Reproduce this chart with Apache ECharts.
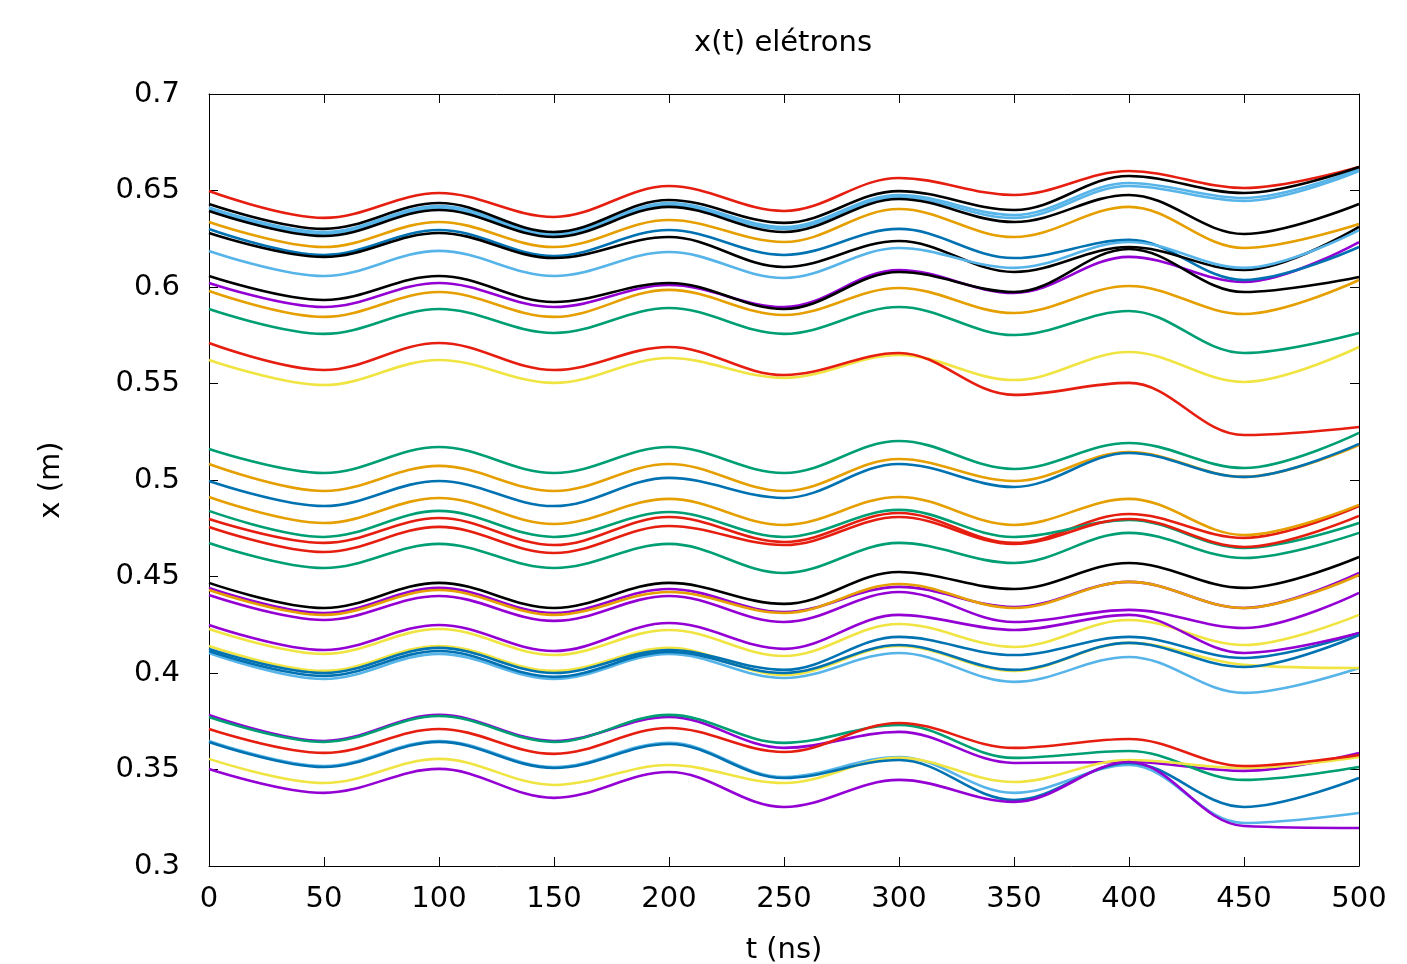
<!DOCTYPE html>
<html>
<head>
<meta charset="utf-8">
<script src="https://cdn.jsdelivr.net/npm/echarts@6/dist/echarts.min.js"></script>
<style>html,body{margin:0;padding:0;background:#fff;}#c{width:1407px;height:964px;}</style>
</head>
<body>
<div id="c"></div>
<script>
// time samples (ns)
const T = [0,50,100,150,200,250,300,350,400,450,500];
const xTicks = [0,50,100,150,200,250,300,350,400,450,500];
const yTicks = ['0.3','0.35','0.4','0.45','0.5','0.55','0.6','0.65','0.7'];

// electron trajectories x(t) in metres
const red1    = [0.6497,0.6358,0.6487,0.6363,0.6523,0.6394,0.6565,0.6477,0.6601,0.6513,0.6622];
const black1  = [0.6430,0.6301,0.6435,0.6285,0.6451,0.6332,0.6497,0.6399,0.6575,0.6487,0.6622];
const lblue1  = [0.6412,0.6285,0.6420,0.6275,0.6435,0.6311,0.6477,0.6373,0.6539,0.6461,0.6611];
const lblue2  = [0.6404,0.6275,0.6409,0.6264,0.6425,0.6301,0.6466,0.6358,0.6523,0.6446,0.6601];
const black2  = [0.6394,0.6264,0.6399,0.6259,0.6415,0.6285,0.6456,0.6337,0.6477,0.6275,0.6430];
const orange1 = [0.6337,0.6207,0.6337,0.6207,0.6347,0.6233,0.6404,0.6259,0.6415,0.6202,0.6326];
const blue1   = [0.6301,0.6166,0.6295,0.6161,0.6295,0.6166,0.6301,0.6150,0.6244,0.6036,0.6207];
const black3  = [0.6280,0.6156,0.6280,0.6150,0.6259,0.6104,0.6238,0.6078,0.6207,0.6088,0.6311];
const lblue3  = [0.6187,0.6057,0.6187,0.6057,0.6181,0.6047,0.6202,0.6099,0.6233,0.6099,0.6295];
const black4  = [0.6057,0.5933,0.6057,0.5922,0.6021,0.5886,0.6078,0.5974,0.6197,0.5974,0.6052];
const purple1 = [0.6021,0.5896,0.6021,0.5896,0.6010,0.5896,0.6088,0.5969,0.6156,0.6026,0.6233];
const orange2 = [0.5979,0.5845,0.5974,0.5845,0.5985,0.5855,0.5995,0.5865,0.6005,0.5860,0.6036];
const green1  = [0.5886,0.5757,0.5886,0.5762,0.5891,0.5757,0.5896,0.5751,0.5876,0.5658,0.5762];
const red2    = [0.5710,0.5570,0.5710,0.5570,0.5689,0.5544,0.5658,0.5441,0.5503,0.5233,0.5275];
const yellow1 = [0.5622,0.5492,0.5622,0.5503,0.5632,0.5529,0.5648,0.5518,0.5663,0.5508,0.5689];

const green2  = [0.5161,0.5036,0.5171,0.5036,0.5171,0.5036,0.5202,0.5057,0.5192,0.5062,0.5244];
const orange3 = [0.5083,0.4943,0.5073,0.4943,0.5083,0.4943,0.5109,0.4995,0.5145,0.5016,0.5181];
const blue2   = [0.4995,0.4865,0.4995,0.4865,0.5011,0.4907,0.5083,0.4964,0.5140,0.5016,0.5187];
const orange4 = [0.4912,0.4777,0.4907,0.4772,0.4902,0.4767,0.4912,0.4767,0.4902,0.4715,0.4871];
const green3  = [0.4840,0.4705,0.4840,0.4705,0.4834,0.4705,0.4845,0.4705,0.4793,0.4648,0.4777];
const red3    = [0.4798,0.4674,0.4803,0.4663,0.4808,0.4679,0.4829,0.4674,0.4824,0.4700,0.4865];
const red4    = [0.4757,0.4627,0.4757,0.4622,0.4762,0.4663,0.4808,0.4669,0.4798,0.4653,0.4814];
const green4  = [0.4674,0.4544,0.4669,0.4544,0.4669,0.4518,0.4674,0.4570,0.4726,0.4596,0.4726];
const black5  = [0.4467,0.4337,0.4467,0.4337,0.4467,0.4358,0.4523,0.4435,0.4570,0.4441,0.4601];
const purple2 = [0.4441,0.4311,0.4441,0.4311,0.4435,0.4316,0.4446,0.4342,0.4472,0.4337,0.4518];
const orange5 = [0.4430,0.4301,0.4430,0.4301,0.4420,0.4311,0.4461,0.4337,0.4472,0.4337,0.4508];
const purple3 = [0.4404,0.4275,0.4399,0.4270,0.4399,0.4264,0.4420,0.4264,0.4327,0.4233,0.4415];
const purple4 = [0.4249,0.4119,0.4249,0.4114,0.4259,0.4125,0.4301,0.4223,0.4301,0.4104,0.4207];
const yellow2 = [0.4228,0.4099,0.4228,0.4093,0.4223,0.4088,0.4254,0.4135,0.4275,0.4145,0.4301];
const yellow3 = [0.4140,0.4011,0.4140,0.4011,0.4130,0.3990,0.4140,0.4011,0.4156,0.4042,0.4026];
const blue3   = [0.4125,0.4000,0.4130,0.4000,0.4119,0.4016,0.4187,0.4093,0.4187,0.4078,0.4207];
const blue4   = [0.4114,0.3985,0.4114,0.3980,0.4109,0.4000,0.4145,0.4016,0.4156,0.4031,0.4197];
const lblue4  = [0.4104,0.3969,0.4099,0.3969,0.4099,0.3974,0.4104,0.3954,0.4083,0.3897,0.4026];

const purple5 = [0.3783,0.3648,0.3783,0.3648,0.3772,0.3612,0.3695,0.3534,0.3539,0.3493,0.3586];
const green5  = [0.3772,0.3643,0.3777,0.3643,0.3783,0.3638,0.3731,0.3560,0.3596,0.3446,0.3513];
const red5    = [0.3710,0.3586,0.3710,0.3581,0.3715,0.3591,0.3741,0.3612,0.3658,0.3518,0.3575];
const lblue5  = [0.3648,0.3518,0.3648,0.3513,0.3638,0.3461,0.3565,0.3379,0.3523,0.3223,0.3275];
const blue5   = [0.3643,0.3513,0.3643,0.3508,0.3632,0.3456,0.3549,0.3342,0.3534,0.3306,0.3456];
const yellow4 = [0.3555,0.3430,0.3555,0.3420,0.3523,0.3430,0.3560,0.3435,0.3549,0.3508,0.3565];
const purple6 = [0.3503,0.3379,0.3503,0.3353,0.3487,0.3306,0.3446,0.3332,0.3539,0.3207,0.3197];

const COL = {purple:'#9400d3', green:'#009e73', lblue:'#56b4e9', orange:'#e69f00',
             yellow:'#f0e442', blue:'#0072b2', red:'#e51e10', black:'#000000'};

const lines = [
  ['purple', purple1],['green', green1],['lblue', lblue1],['orange', orange1],['yellow', yellow1],['blue', blue1],['red', red1],['black', black1],
  ['lblue', lblue2],['black', black2],['black', black3],['lblue', lblue3],['black', black4],['orange', orange2],['red', red2],
  ['purple', purple2],['green', green2],['lblue', lblue4],['orange', orange3],['yellow', yellow2],['blue', blue2],['red', red3],['black', black5],
  ['purple', purple3],['green', green3],['orange', orange4],['yellow', yellow3],['blue', blue3],['red', red4],
  ['purple', purple4],['green', green4],['orange', orange5],['blue', blue4],
  ['purple', purple5],['green', green5],['lblue', lblue5],['yellow', yellow4],['blue', blue5],['red', red5],['purple', purple6]
];

const FONT = 'DejaVu Sans';
const FS = 29;
const series = lines.map(([c, vals], i) => ({
  type: 'line', name: 'e' + i, xAxisIndex: 0, yAxisIndex: 0,
  data: T.map((t, k) => [t, vals[k]]),
  smooth: 0.36, showSymbol: false, symbol: 'none',
  lineStyle: {color: COL[c], width: 2.6}, itemStyle: {color: COL[c]},
  emphasis: {disabled: true}
}));

const chart = echarts.init(document.getElementById('c'), null, {renderer: 'canvas'});
const axisCommon = {
  axisLine: {show: true, onZero: false, lineStyle: {color: '#000', width: 1}},
  axisTick: {show: true, inside: true, length: 9, lineStyle: {color: '#000', width: 1}},
  splitLine: {show: false}
};
chart.setOption({
  animation: false,
  backgroundColor: '#fff',
  title: {text: 'x(t) elétrons', left: 689, top: 24,
          textStyle: {fontFamily: FONT, fontSize: FS, fontWeight: 'normal', color: '#000'}},
  grid: {left: 209, right: 48, top: 94, bottom: 98, containLabel: false, outerBoundsMode: 'none'},
  xAxis: [
    Object.assign({type: 'value', min: 0, max: 500, interval: 50, position: 'bottom',
      name: 't (ns)', nameLocation: 'middle', nameGap: 70,
      nameTextStyle: {fontFamily: FONT, fontSize: FS, color: '#000'},
      axisLabel: {fontFamily: FONT, fontSize: FS, color: '#000', margin: 19,
                  formatter: v => String(xTicks[Math.round(v / 50)])}}, axisCommon),
    Object.assign({type: 'value', min: 0, max: 500, interval: 50, position: 'top',
      axisLabel: {show: false}}, axisCommon)
  ],
  yAxis: [
    Object.assign({type: 'value', min: 0.3, max: 0.7, interval: 0.05, position: 'left',
      name: 'x (m)', nameLocation: 'middle', nameGap: 143, nameRotate: 90,
      nameTextStyle: {fontFamily: FONT, fontSize: FS, color: '#000'},
      axisLabel: {fontFamily: FONT, fontSize: FS, color: '#000', margin: 29,
                  formatter: v => yTicks[Math.round((v - 0.3) / 0.05)]}}, axisCommon),
    Object.assign({type: 'value', min: 0.3, max: 0.7, interval: 0.05, position: 'right',
      axisLabel: {show: false}}, axisCommon)
  ],
  series: series
});
</script>
</body>
</html>
